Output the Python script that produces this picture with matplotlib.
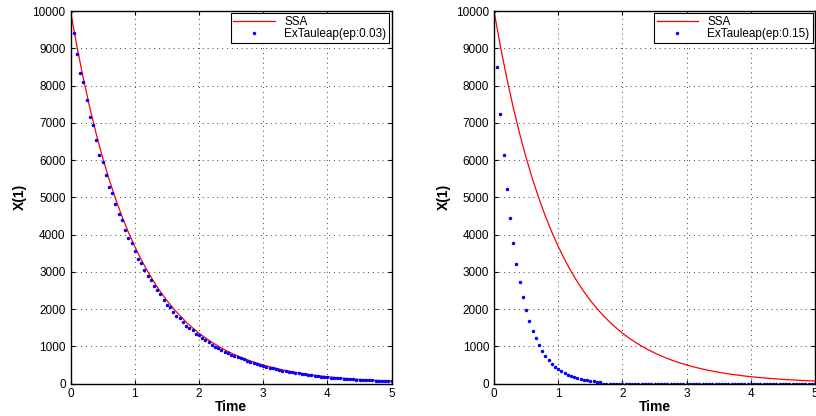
import matplotlib
matplotlib.use("Agg")
import matplotlib.pyplot as plt

plt.rcParams['font.family'] = ['Liberation Sans', 'DejaVu Sans']

# ---------------------------
# Data
# ---------------------------
ssa_time = [i / 10 for i in range(51)]
ssa_x = [10000, 9048, 8187, 7408, 6703, 6065, 5488, 4966, 4493, 4066,
         3679, 3329, 3012, 2725, 2466, 2231, 2019, 1827, 1653, 1496,
         1353, 1225, 1108, 1003, 907, 821, 743, 672, 608, 550,
         498, 450, 408, 369, 334, 302, 273, 247, 224, 202,
         183, 166, 150, 136, 123, 111, 101, 91, 82, 74, 67]

tau_time = [i / 20 for i in range(101)]

# ep = 0.03
tau_x_003 = [10000, 9410, 8855, 8340, 8090, 7614, 7158, 6944, 6533, 6147,
             5960, 5611, 5282, 5121, 4826, 4539, 4397, 4129, 3896, 3772,
             3558, 3351, 3236, 3056, 2877, 2788, 2627, 2510, 2405, 2252,
             2118, 2056, 1930, 1815, 1761, 1662, 1555, 1501, 1429, 1340,
             1295, 1225, 1172, 1118, 1046, 992, 946, 912, 858, 812,
             777, 732, 705, 678, 645, 612, 582, 553, 525, 499,
             474, 450, 428, 406, 386, 367, 348, 331, 314, 299,
             284, 270, 256, 243, 231, 220, 209, 198, 188, 179,
             170, 161, 153, 146, 138, 131, 125, 119, 113, 107,
             102, 97, 92, 87, 83, 79, 75, 71, 68, 64, 61]

# ep = 0.15
tau_x_015 = [10000, 8500, 7225, 6141, 5220, 4437, 3771, 3206, 2725, 2316,
             1969, 1673, 1422, 1209, 1028, 873, 742, 631, 536, 456,
             388, 329, 280, 238, 202, 172, 146, 124, 106, 90,
             76, 61, 48, 36] + [0] * 67

panels = [
    (tau_x_003, "ExTauleap(ep:0.03)", [0.0864, 0.0781, 0.3936, 0.8954]),
    (tau_x_015, "ExTauleap(ep:0.15)", [0.6054, 0.0781, 0.3934, 0.8954]),
]

fig = plt.figure(figsize=(8.16, 4.16), dpi=100)

for tau_x, label, pos in panels:
    ax = fig.add_axes(pos)
    ax.plot(ssa_time, ssa_x, color="red", lw=0.9, label="SSA")
    ax.plot(tau_time, tau_x, ".", color="blue", ms=3, label=label)
    ax.set_xlim(0, 5)
    ax.set_ylim(0, 10000)
    ax.set_xticks(range(6))
    ax.set_yticks(range(0, 10001, 1000))
    ax.grid(True, color="0.25", lw=0.7, dashes=(1, 4))
    ax.tick_params(direction="in", top=True, right=True, labelsize=8.5,
                   length=3, width=0.8)
    for sp in ax.spines.values():
        sp.set_linewidth(1.0)
    ax.set_xlabel("Time", fontsize=10, fontweight="bold", labelpad=0)
    ax.set_ylabel("X(1)", fontsize=10, fontweight="bold", labelpad=4)
    leg = ax.legend(loc="upper right", fontsize=8.5, frameon=True,
                    fancybox=False, edgecolor="black", framealpha=1,
                    borderaxespad=0.2, handlelength=3.5, borderpad=0.25,
                    labelspacing=0.0)
    leg.get_frame().set_linewidth(0.8)

fig.savefig("out.png", dpi=100)
